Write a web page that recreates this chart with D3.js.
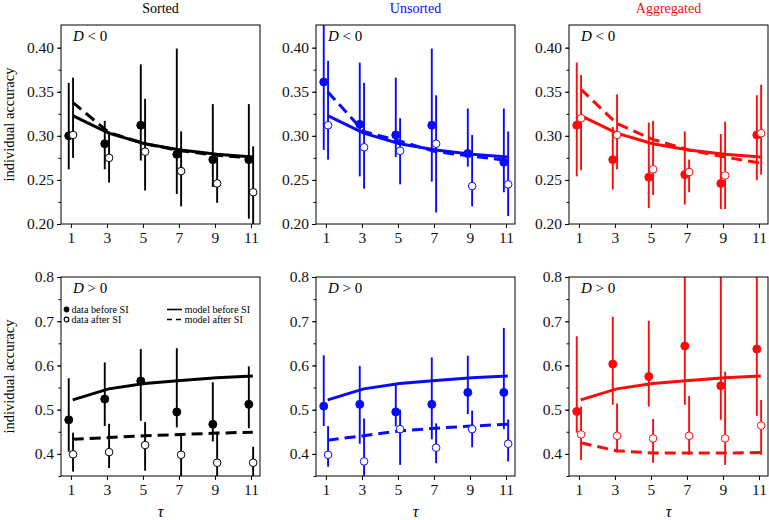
<!DOCTYPE html>
<html>
<head>
<meta charset="utf-8">
<script src="https://cdn.jsdelivr.net/npm/d3@7"></script>
<style>
  body { margin: 0; background: #fff; }
</style>
</head>
<body>
<svg id="chart" width="769" height="520"></svg>
<script>
// tau values and panel names
const tau = [1, 3, 5, 7, 9, 11];
const conditions = ['Sorted', 'Unsorted', 'Aggregated'];
const yTicksNeg = [0.20, 0.25, 0.30, 0.35, 0.40];
const yTicksPos = [0.4, 0.5, 0.6, 0.7, 0.8];

// model curves shared by all conditions (before SI)
const modelNegBefore = [0.323, 0.303, 0.291, 0.284, 0.279, 0.276];
const modelPosBefore = [0.522, 0.547, 0.559, 0.566, 0.572, 0.576];

// D < 0 : [mean, low, high]
const sortedNegBefore = [[0.300, 0.262, 0.360], [0.291, 0.262, 0.317], [0.312, 0.272, 0.381], [0.279, 0.234, 0.399], [0.273, 0.242, 0.336], [0.273, 0.206, 0.336]];
const sortedNegAfter = [[0.301, 0.275, 0.366], [0.275, 0.247, 0.305], [0.282, 0.238, 0.342], [0.260, 0.220, 0.305], [0.246, 0.224, 0.276], [0.236, 0.190, 0.288]];
const sortedNegModelAfter = [0.338, 0.304, 0.291, 0.283, 0.278, 0.275];

const unsortedNegBefore = [[0.361, 0.284, 0.450], [0.313, 0.254, 0.383], [0.301, 0.276, 0.366], [0.312, 0.248, 0.399], [0.280, 0.265, 0.331], [0.270, 0.236, 0.331]];
const unsortedNegAfter = [[0.312, 0.273, 0.385], [0.287, 0.240, 0.360], [0.283, 0.245, 0.320], [0.291, 0.213, 0.346], [0.243, 0.220, 0.301], [0.245, 0.209, 0.305]];
const unsortedNegModelAfter = [0.350, 0.305, 0.294, 0.282, 0.277, 0.272];

const aggNegBefore = [[0.312, 0.254, 0.383], [0.273, 0.239, 0.310], [0.253, 0.218, 0.315], [0.256, 0.222, 0.305], [0.246, 0.217, 0.302], [0.301, 0.250, 0.346]];
const aggNegAfter = [[0.320, 0.261, 0.369], [0.301, 0.262, 0.347], [0.262, 0.233, 0.317], [0.259, 0.236, 0.273], [0.255, 0.217, 0.316], [0.303, 0.256, 0.358]];
const aggNegModelAfter = [0.353, 0.314, 0.296, 0.284, 0.276, 0.269];

// D > 0
const sortedPosBefore = [[0.477, 0.405, 0.571], [0.524, 0.463, 0.607], [0.565, 0.475, 0.637], [0.495, 0.460, 0.639], [0.467, 0.428, 0.562], [0.512, 0.458, 0.598]];
const sortedPosAfter = [[0.399, 0.360, 0.448], [0.404, 0.368, 0.468], [0.420, 0.362, 0.472], [0.398, 0.330, 0.447], [0.380, 0.330, 0.448], [0.380, 0.330, 0.416]];
const sortedPosModelAfter = [0.433, 0.437, 0.441, 0.444, 0.447, 0.449];

const unsortedPosBefore = [[0.508, 0.463, 0.623], [0.512, 0.423, 0.599], [0.495, 0.462, 0.560], [0.512, 0.433, 0.618], [0.539, 0.490, 0.622], [0.539, 0.456, 0.685]];
const unsortedPosAfter = [[0.398, 0.371, 0.463], [0.383, 0.330, 0.480], [0.456, 0.375, 0.500], [0.414, 0.379, 0.469], [0.456, 0.415, 0.498], [0.423, 0.383, 0.478]];
const unsortedPosModelAfter = [0.431, 0.441, 0.452, 0.458, 0.463, 0.467];

const aggPosBefore = [[0.496, 0.448, 0.666], [0.603, 0.511, 0.710], [0.575, 0.507, 0.701], [0.644, 0.511, 0.850], [0.554, 0.477, 0.850], [0.637, 0.486, 0.850]];
const aggPosAfter = [[0.444, 0.386, 0.507], [0.441, 0.403, 0.514], [0.435, 0.380, 0.479], [0.441, 0.398, 0.531], [0.435, 0.375, 0.586], [0.464, 0.398, 0.522]];
const aggPosModelAfter = [0.425, 0.407, 0.402, 0.402, 0.402, 0.403];

const colors = ['#000000', '#0a0aff', '#ff0a0a'];
const colLeft = [61, 316, 569];
const rowTop = [25, 277];
const pw = 199, ph = 199;
const serif = '"Liberation Serif", "Times New Roman", Times, serif';

const panels = [
    { row: 0, col: 0, before: sortedNegBefore, after: sortedNegAfter, mBefore: modelNegBefore, mAfter: sortedNegModelAfter },
    { row: 0, col: 1, before: unsortedNegBefore, after: unsortedNegAfter, mBefore: modelNegBefore, mAfter: unsortedNegModelAfter },
    { row: 0, col: 2, before: aggNegBefore, after: aggNegAfter, mBefore: modelNegBefore, mAfter: aggNegModelAfter },
    { row: 1, col: 0, before: sortedPosBefore, after: sortedPosAfter, mBefore: modelPosBefore, mAfter: sortedPosModelAfter },
    { row: 1, col: 1, before: unsortedPosBefore, after: unsortedPosAfter, mBefore: modelPosBefore, mAfter: unsortedPosModelAfter },
    { row: 1, col: 2, before: aggPosBefore, after: aggPosAfter, mBefore: modelPosBefore, mAfter: aggPosModelAfter }
];

const svg = d3.select('#chart').style('font-family', serif);
const defs = svg.append('defs');

const x = d3.scaleLinear().domain([0.45, 11.5]).range([0, pw]);
const yNeg = d3.scaleLinear().domain([0.20, 0.4257]).range([ph, 0]);
const yPos = d3.scaleLinear().domain([0.35, 0.80]).range([ph, 0]);

// column titles
conditions.forEach((c, i) => {
    svg.append('text')
        .attr('x', colLeft[i] + pw / 2)
        .attr('y', 13)
        .attr('text-anchor', 'middle')
        .style('font-family', serif)
        .style('font-size', '14px')
        .attr('fill', i === 0 ? '#000' : colors[i])
        .text(c);
});

panels.forEach((p, idx) => {
    const color = colors[p.col];
    const y = p.row === 0 ? yNeg : yPos;
    const g = svg.append('g')
        .attr('transform', `translate(${colLeft[p.col]},${rowTop[p.row]})`);

    defs.append('clipPath').attr('id', 'clip' + idx)
        .append('rect').attr('width', pw).attr('height', ph);

    // y axis, major + minor
    const yMajor = p.row === 0 ? yTicksNeg : yTicksPos;
    const yMinor = p.row === 0 ? d3.range(0.20, 0.42, 0.025) : d3.range(0.35, 0.801, 0.05);
    g.append('g')
        .call(d3.axisLeft(y).tickValues(yMinor).tickSize(2.5).tickFormat(''))
        .call(a => a.select('.domain').remove());
    g.append('g')
        .call(d3.axisLeft(y).tickValues(yMajor).tickSize(4).tickPadding(3)
            .tickFormat(d3.format(p.row === 0 ? '.2f' : '.1f')))
        .call(a => a.select('.domain').remove())
        .call(a => a.selectAll('text').style('font-family', serif).style('font-size', '15.5px').attr('fill', '#111'));

    // x axis
    g.append('g')
        .attr('transform', `translate(0,${ph})`)
        .call(d3.axisBottom(x).tickValues(tau).tickSize(4).tickPadding(4).tickFormat(d3.format('d')))
        .call(a => a.select('.domain').remove())
        .call(a => a.selectAll('text').style('font-family', serif).style('font-size', '15.5px').attr('fill', '#111'));

    const plot = g.append('g').attr('clip-path', `url(#clip${idx})`);

    // model lines
    const line = d3.line().x((d, i) => x(tau[i] + 0.1)).y(d => y(d));
    plot.append('path')
        .datum(p.mBefore)
        .attr('d', line)
        .attr('fill', 'none')
        .attr('stroke', color)
        .attr('stroke-width', 3);
    plot.append('path')
        .datum(p.mAfter)
        .attr('d', line)
        .attr('fill', 'none')
        .attr('stroke', color)
        .attr('stroke-width', 3)
        .attr('stroke-dasharray', '11,6');

    // error bars and points
    const series = [
        { data: p.before, dx: -0.12, open: false },
        { data: p.after, dx: 0.12, open: true }
    ];
    series.forEach(s => {
        plot.selectAll(null)
            .data(s.data)
            .enter().append('line')
            .attr('x1', (d, i) => x(tau[i] + s.dx))
            .attr('x2', (d, i) => x(tau[i] + s.dx))
            .attr('y1', d => y(d[1]))
            .attr('y2', d => y(d[2]))
            .attr('stroke', color)
            .attr('stroke-width', 1.9);
    });
    series.forEach(s => {
        plot.selectAll(null)
            .data(s.data)
            .enter().append('circle')
            .attr('cx', (d, i) => x(tau[i] + s.dx))
            .attr('cy', d => y(d[0]))
            .attr('r', s.open ? 3.8 : 4)
            .attr('fill', s.open ? '#fff' : color)
            .attr('stroke', color)
            .attr('stroke-width', 1);
    });

    // frame
    g.append('rect')
        .attr('width', pw).attr('height', ph)
        .attr('fill', 'none')
        .attr('stroke', '#000')
        .attr('stroke-width', 1);

    // D label
    const lab = g.append('text')
        .attr('x', 12).attr('y', 16)
        .style('font-family', serif)
        .style('font-size', '15px');
    lab.append('tspan').attr('font-style', 'italic').text('D');
    lab.append('tspan').text(p.row === 0 ? ' < 0' : ' > 0');

    if (p.row === 1) {
        g.append('text')
            .attr('x', pw / 2).attr('y', 240)
            .attr('text-anchor', 'middle')
            .style('font-family', serif)
            .style('font-size', '16px')
            .attr('font-style', 'italic')
            .text('τ');
    }
});

// y labels
[0, 1].forEach(r => {
    svg.append('text')
        .attr('transform', `translate(14,${rowTop[r] + ph / 2}) rotate(-90)`)
        .attr('text-anchor', 'middle')
        .style('font-family', serif)
        .style('font-size', '14.5px')
        .text('individual accuracy');
});

// legend in the bottom-left panel
const leg = svg.append('g').attr('transform', `translate(${colLeft[0]},${rowTop[1]})`);
const legRows = [
    { label: 'data before SI', open: false, model: 'model before SI', dash: null },
    { label: 'data after SI', open: true, model: 'model after SI', dash: '5,4' }
];
legRows.forEach((r, i) => {
    const yy = 32.5 + i * 10;
    leg.append('circle')
        .attr('cx', 5.5).attr('cy', yy)
        .attr('r', 2.3)
        .attr('fill', r.open ? '#fff' : '#000')
        .attr('stroke', '#000').attr('stroke-width', 1.2);
    leg.append('text')
        .attr('x', 10.5).attr('y', yy + 3.3)
        .style('font-family', serif)
        .style('font-size', '10.2px')
        .text(r.label);
    leg.append('line')
        .attr('x1', 106).attr('x2', 121)
        .attr('y1', yy).attr('y2', yy)
        .attr('stroke', '#000').attr('stroke-width', 1.6)
        .attr('stroke-dasharray', r.dash);
    leg.append('text')
        .attr('x', 123.5).attr('y', yy + 3.3)
        .style('font-family', serif)
        .style('font-size', '10.2px')
        .text(r.model);
});
</script>
</body>
</html>
